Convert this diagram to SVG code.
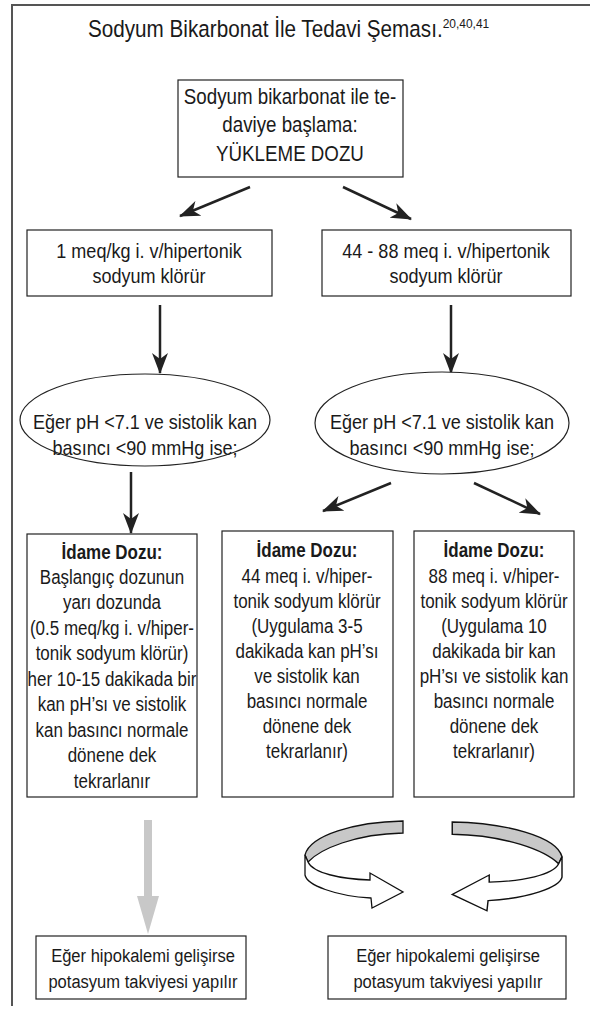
<svg xmlns="http://www.w3.org/2000/svg" width="590" height="1010" viewBox="0 0 590 1010">
<defs>
<style>
.t{font-family:"Liberation Sans",Arial,sans-serif;fill:#1a1a1a;text-anchor:middle}
.f1{font-size:20.5px}
.f2{font-size:19.3px}
.f3{font-size:18.8px}
.ft{font-size:21.3px}
.b{font-weight:bold}
.box{fill:#fff;stroke:#222;stroke-width:1.2}
.con{stroke:#222;stroke-width:2.5;fill:none}
.ring{stroke:#111;stroke-width:1.3}
</style>
<marker id="ah" markerUnits="userSpaceOnUse" markerWidth="21" markerHeight="16" viewBox="0 0 21 16" refX="20" refY="8" orient="auto">
<path d="M0,0 L21,8 L0,16 L6,8 Z" fill="#222"/>
</marker>
<g id="loop">
<path class="ring" fill="#c8c8c8" d="M98,0 C50,1 5,14 0,34 L3,41 C15,28 50,13 98,12 Z"/>
<path class="ring" fill="#fff" d="M0,34 L0,54 C2,64 30,75 66,77 L67,87 L98,71 L65,52 L65,59 C35,58 8,52 3,41 Z"/>
</g>
</defs>
<rect width="590" height="1010" fill="#fff"/>
<g id="frame" fill="none" stroke="#555" stroke-width="2">
<path d="M12,1006 L12,5 L590,5"/>
</g>
<g id="title" transform="translate(88,0) scale(0.88,1)">
<text class="t" style="font-size:23.5px;text-anchor:start" x="0" y="37">Sodyum Bikarbonat İle Tedavi Şeması.<tspan style="font-size:13.6px" dy="-9">20,40,41</tspan></text>
</g>
<g id="connectors">
<line class="con" x1="250" y1="187" x2="180" y2="216" marker-end="url(#ah)"/>
<line class="con" x1="343" y1="187" x2="411" y2="219" marker-end="url(#ah)"/>
<line class="con" x1="160" y1="305" x2="160" y2="373" marker-end="url(#ah)"/>
<line class="con" x1="451" y1="305" x2="451" y2="373" marker-end="url(#ah)"/>
<line class="con" x1="131" y1="472" x2="131" y2="533" marker-end="url(#ah)"/>
<line class="con" x1="391" y1="483" x2="323" y2="511" marker-end="url(#ah)"/>
<line class="con" x1="474" y1="483" x2="540" y2="514" marker-end="url(#ah)"/>
<g id="grayarrow" fill="#c8c8c8">
<rect x="144" y="820" width="8" height="78"/>
<path d="M137,896 L159,896 L148,934 Z"/>
</g>
<use href="#loop" transform="translate(305,821)"/>
<use href="#loop" transform="translate(562,822) scale(-1.12,1.02)"/>
</g>
<g id="start">
<rect class="box" x="178" y="80" width="225" height="97"/>
<g transform="translate(290,0) scale(0.88,1)">
<text class="t ft" x="0" y="104">Sodyum bikarbonat ile te-</text>
<text class="t ft" x="0" y="132">daviye başlama:</text>
<text class="t ft" x="0" y="161">YÜKLEME DOZU</text>
</g>
</g>
<g id="dose1">
<rect class="box" x="27" y="230" width="245" height="66"/>
<g transform="translate(149,0) scale(0.88,1)">
<text class="t f1" x="0" y="258">1 meq/kg i. v/hipertonik</text>
<text class="t f1" x="0" y="283">sodyum klörür</text>
</g>
</g>
<g id="dose2">
<rect class="box" x="322" y="230" width="249" height="66"/>
<g transform="translate(446,0) scale(0.88,1)">
<text class="t f1" x="0" y="258">44 - 88 meq i. v/hipertonik</text>
<text class="t f1" x="0" y="283">sodyum klörür</text>
</g>
</g>
<g id="cond1">
<ellipse class="box" cx="145" cy="420" rx="125" ry="46"/>
<g transform="translate(145,0) scale(0.88,1)">
<text class="t f1" x="0" y="429">Eğer pH &lt;7.1 ve sistolik kan</text>
<text class="t f1" x="0" y="455">basıncı &lt;90 mmHg ise;</text>
</g>
</g>
<g id="cond2">
<ellipse class="box" cx="442" cy="423" rx="127" ry="51"/>
<g transform="translate(442,0) scale(0.88,1)">
<text class="t f1" x="0" y="429">Eğer pH &lt;7.1 ve sistolik kan</text>
<text class="t f1" x="0" y="455">basıncı &lt;90 mmHg ise;</text>
</g>
</g>
<g id="maint1">
<rect class="box" x="27" y="534" width="170" height="263"/>
<g transform="translate(112,0) scale(0.88,1)">
<text class="t f2 b" x="0" y="559">İdame Dozu:</text>
<text class="t f2" x="0" y="584">Başlangıç dozunun</text>
<text class="t f2" x="0" y="609">yarı dozunda</text>
<text class="t f2" x="0" y="635">(0.5 meq/kg i. v/hiper-</text>
<text class="t f2" x="0" y="660">tonik sodyum klörür)</text>
<text class="t f2" x="0" y="686">her 10-15 dakikada bir</text>
<text class="t f2" x="0" y="711">kan pH’sı ve sistolik</text>
<text class="t f2" x="0" y="737">kan basıncı normale</text>
<text class="t f2" x="0" y="762">dönene dek</text>
<text class="t f2" x="0" y="788">tekrarlanır</text>
</g>
</g>
<g id="maint2">
<rect class="box" x="222" y="531" width="171" height="266"/>
<g transform="translate(307,0) scale(0.88,1)">
<text class="t f2 b" x="0" y="557">İdame Dozu:</text>
<text class="t f2" x="0" y="583">44 meq i. v/hiper-</text>
<text class="t f2" x="0" y="608">tonik sodyum klörür</text>
<text class="t f2" x="0" y="633">(Uygulama 3-5</text>
<text class="t f2" x="0" y="658">dakikada kan pH’sı</text>
<text class="t f2" x="0" y="683">ve sistolik kan</text>
<text class="t f2" x="0" y="708">basıncı normale</text>
<text class="t f2" x="0" y="733">dönene dek</text>
<text class="t f2" x="0" y="758">tekrarlanır)</text>
</g>
</g>
<g id="maint3">
<rect class="box" x="414" y="531" width="160" height="266"/>
<g transform="translate(494,0) scale(0.88,1)">
<text class="t f2 b" x="0" y="557">İdame Dozu:</text>
<text class="t f2" x="0" y="583">88 meq i. v/hiper-</text>
<text class="t f2" x="0" y="608">tonik sodyum klörür</text>
<text class="t f2" x="0" y="633">(Uygulama 10</text>
<text class="t f2" x="0" y="658">dakikada bir kan</text>
<text class="t f2" x="0" y="683">pH’sı ve sistolik kan</text>
<text class="t f2" x="0" y="708">basıncı normale</text>
<text class="t f2" x="0" y="733">dönene dek</text>
<text class="t f2" x="0" y="758">tekrarlanır)</text>
</g>
</g>
<g id="kalium1">
<rect class="box" x="36" y="936" width="210" height="63"/>
<g transform="translate(143,0) scale(0.88,1)">
<text class="t f3" x="0" y="962">Eğer hipokalemi gelişirse</text>
<text class="t f3" x="0" y="988">potasyum takviyesi yapılır</text>
</g>
</g>
<g id="kalium2">
<rect class="box" x="328" y="936" width="238" height="63"/>
<g transform="translate(448,0) scale(0.88,1)">
<text class="t f3" x="0" y="962">Eğer hipokalemi gelişirse</text>
<text class="t f3" x="0" y="988">potasyum takviyesi yapılır</text>
</g>
</g>
</svg>
